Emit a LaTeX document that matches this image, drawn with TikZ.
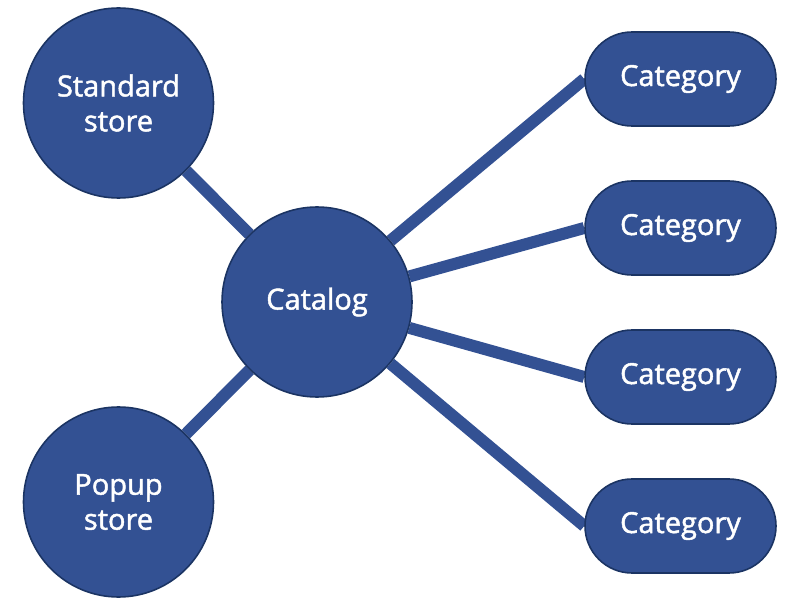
\documentclass[tikz,border=0pt]{standalone}
\usepackage{fontspec}
\setmainfont{Open Sans}[UprightFeatures={FakeBold=1.6}]
\definecolor{NodeBlue}{HTML}{335193}
\definecolor{NodeEdge}{HTML}{1B3463}
\definecolor{White}{HTML}{FFFFFF}
\usetikzlibrary{positioning,backgrounds}
\tikzset{
  circ/.style={circle,draw=NodeEdge,fill=NodeBlue,line width=0.9pt,minimum size=3.8cm,
    inner sep=0pt,align=center,text=White,font=\fontsize{16.5}{19.9}\selectfont},
  pill/.style={rounded corners=0.94cm,draw=NodeEdge,fill=NodeBlue,line width=0.9pt,
    minimum width=3.82cm,minimum height=1.88cm,inner sep=0pt,text=White,
    font=\fontsize{16.5}{19.9}\selectfont},
  link/.style={draw=NodeBlue,line width=0.24cm},
}

\begin{document}
\begin{tikzpicture}[x=1cm,y=1cm]
\useasboundingbox (0,0) rectangle (16,12.12);
% stores and catalog
\node[circ] (std) at (2.37,10.06) {Standard\\store};
\node[circ] (cat) at (6.34,6.08) {Catalog};
\node[circ] (pop) at (2.37,2.08) {Popup\\store};

% categories
\foreach \i/\y in {1/10.54, 2/7.56, 3/4.58, 4/1.60}{
  \node[pill] (cg\i) at (13.61,\y) {Category};}

% links
\begin{scope}[on background layer]
\draw[link] (std) -- (cat);
\draw[link] (pop) -- (cat);
\foreach \i in {1,...,4}{
  \draw[link] (cat) -- (cg\i.west);}
\end{scope}
\end{tikzpicture}
\end{document}
